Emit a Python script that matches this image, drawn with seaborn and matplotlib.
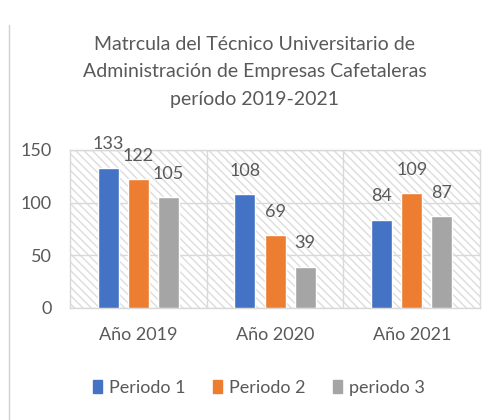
import pandas as pd
import matplotlib.pyplot as plt
import seaborn as sns
from matplotlib.lines import Line2D

years = ["Año 2019", "Año 2020", "Año 2021"]
series = ["Periodo 1", "Periodo 2", "periodo 3"]
periodo1 = [133, 108, 84]
periodo2 = [122, 69, 109]
periodo3 = [105, 39, 87]
colors = ["#4472C4", "#ED7D31", "#A5A5A5"]

df = pd.DataFrame({
    "year": years * 3,
    "serie": [s for s in series for _ in years],
    "valor": periodo1 + periodo2 + periodo3,
})

sns.set_theme(style="white")
plt.rcParams["font.family"] = ["Lato", "DejaVu Sans"]
txt = "#595959"

fig = plt.figure(figsize=(4.98, 4.2), dpi=100)
ax = fig.add_axes([0.1406, 0.2667, 0.8234, 0.3762])

sns.barplot(data=df, x="year", y="valor", hue="serie", palette=colors,
            saturation=1, width=0.66, gap=0.3, ax=ax, zorder=3)

# hatched background
ax.patch.set_facecolor("white")
ax.patch.set_hatch("\\\\\\\\")
ax.patch.set_edgecolor("#dcdcdc")
ax.patch.set_linewidth(0)

ax.set_ylim(0, 150)
ax.set_xlim(-0.5, 2.5)
ax.set_yticks([0, 50, 100, 150])
ax.yaxis.grid(True, color="#d9d9d9", lw=1, zorder=1)
for xv in [0.5, 1.5]:
    ax.axvline(xv, color="#d9d9d9", lw=1, zorder=1)
for sp in ax.spines.values():
    sp.set_color("#d9d9d9")
    sp.set_linewidth(1)
ax.set_xlabel("")
ax.set_ylabel("")
ax.tick_params(axis="both", length=0, colors=txt, labelsize=13)
ax.tick_params(axis="x", pad=14)
ax.tick_params(axis="y", pad=13)

for cont in ax.containers:
    for bar in cont:
        h = bar.get_height()
        ax.annotate(f"{h:.0f}", (bar.get_x() + bar.get_width() / 2, h),
                    xytext=(0, 17), textcoords="offset points",
                    ha="center", va="center", fontsize=13, color=txt)

ax.legend_.remove()
handles = [plt.Rectangle((0, 0), 1, 1, color=c) for c in colors]
fig.legend(handles, series, loc="center", bbox_to_anchor=(0.52, 0.077),
           ncol=3, frameon=False, fontsize=13, labelcolor=txt,
           handlelength=0.5, handleheight=0.8, handletextpad=0.4,
           columnspacing=1.5)

fig.text(0.512, 0.915,
         "Matrcula del Técnico Universitario de\n"
         "Administración de Empresas Cafetaleras\n"
         "período 2019-2021",
         ha="center", va="top", fontsize=14, color=txt, linespacing=1.75)

fig.add_artist(Line2D([0.018, 0.018], [0, 0.94], color="#d0d0d0", lw=1))

fig.savefig("out.png", dpi=100)
